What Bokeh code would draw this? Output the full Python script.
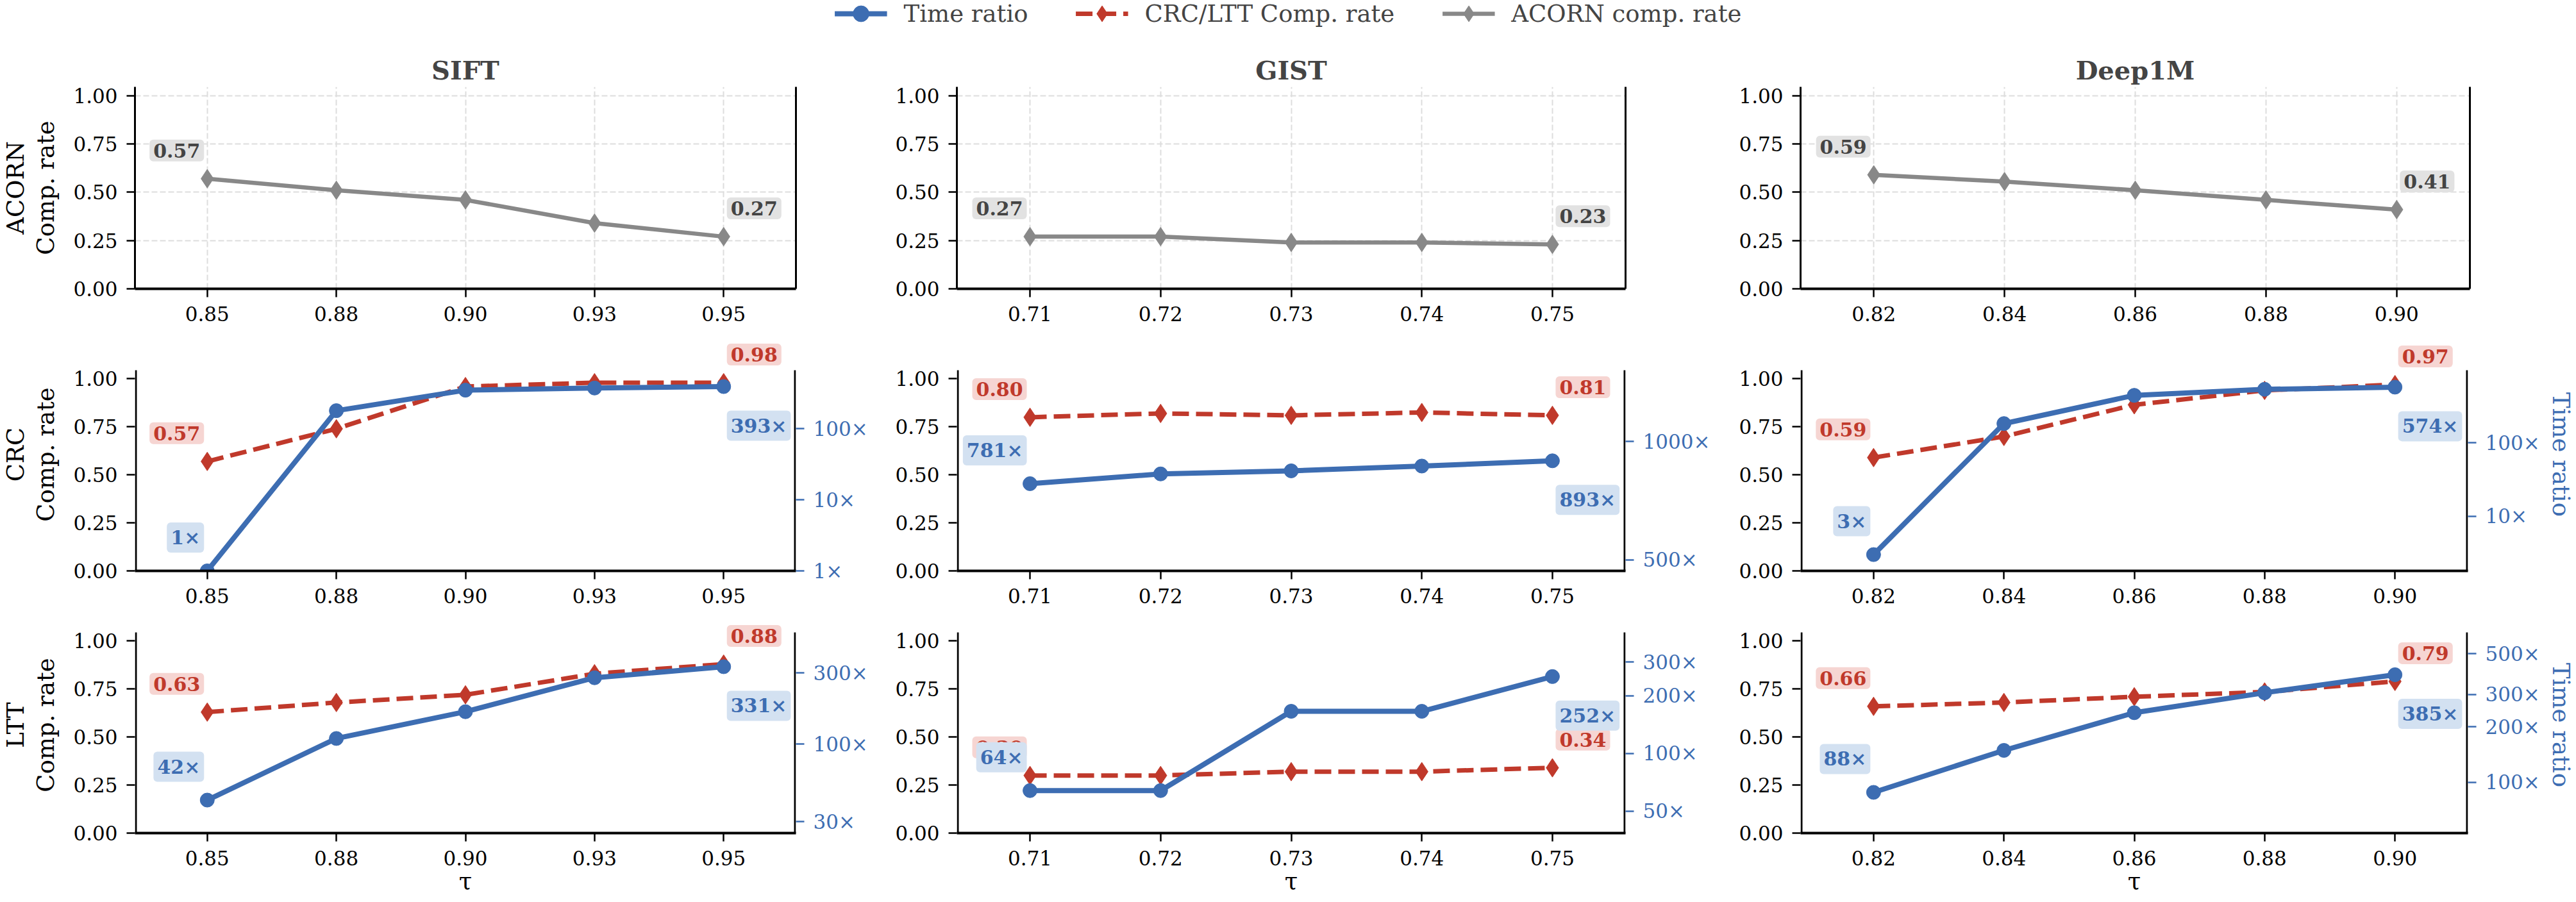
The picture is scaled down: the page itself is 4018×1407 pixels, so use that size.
import math
from bokeh.plotting import figure
from bokeh.layouts import column, row
from bokeh.models import (Range1d, LogScale, LogAxis, LinearAxis, FixedTicker,
                          CustomJSTickFormatter, PrintfTickFormatter, Label,
                          Legend, LegendItem)
from bokeh.embed import file_html
from bokeh.resources import INLINE

# ---------------- data ----------------
datasets = ["SIFT", "GIST", "Deep1M"]
tau_sift = ["0.85", "0.88", "0.90", "0.93", "0.95"]
tau_gist = ["0.71", "0.72", "0.73", "0.74", "0.75"]
tau_deep = ["0.82", "0.84", "0.86", "0.88", "0.90"]

acorn_sift = [0.57, 0.51, 0.46, 0.34, 0.27]
acorn_gist = [0.27, 0.27, 0.24, 0.24, 0.23]
acorn_deep = [0.59, 0.555, 0.51, 0.46, 0.41]

crc_rate_sift = [0.57, 0.74, 0.96, 0.98, 0.98]
crc_time_sift = [1, 180, 350, 375, 393]
crc_rate_gist = [0.80, 0.82, 0.81, 0.825, 0.81]
crc_time_gist = [781, 827, 842, 866, 893]
crc_rate_deep = [0.59, 0.70, 0.865, 0.94, 0.97]
crc_time_deep = [3, 183, 444, 536, 574]

ltt_rate_sift = [0.63, 0.68, 0.72, 0.83, 0.88]
ltt_time_sift = [42, 109, 165, 279, 331]
ltt_rate_gist = [0.30, 0.30, 0.32, 0.32, 0.34]
ltt_time_gist = [64, 64, 166, 166, 252]
ltt_rate_deep = [0.66, 0.68, 0.71, 0.735, 0.79]
ltt_time_deep = [88, 149, 239, 307, 385]

crc_ticks_sift = [1, 10, 100]
crc_ticks_gist = [500, 1000]
crc_ticks_deep = [10, 100]
ltt_ticks_sift = [30, 100, 300]
ltt_ticks_gist = [50, 100, 200, 300]
ltt_ticks_deep = [100, 200, 300, 500]

rate_ticks = [0.0, 0.25, 0.5, 0.75, 1.0]
row_labels = ["ACORN\nComp. rate", "CRC\nComp. rate", "LTT\nComp. rate"]

taus = [tau_sift, tau_gist, tau_deep]
acorn = [acorn_sift, acorn_gist, acorn_deep]
rates = [None, [crc_rate_sift, crc_rate_gist, crc_rate_deep],
         [ltt_rate_sift, ltt_rate_gist, ltt_rate_deep]]
times = [None, [crc_time_sift, crc_time_gist, crc_time_deep],
         [ltt_time_sift, ltt_time_gist, ltt_time_deep]]
tticks = [None, [crc_ticks_sift, crc_ticks_gist, crc_ticks_deep],
          [ltt_ticks_sift, ltt_ticks_gist, ltt_ticks_deep]]

# ---------------- style ----------------
FONT = "DejaVu Serif"
BLUE = "#3d6db2"
RED = "#c0392b"
GRAY = "#888888"
BLUE_BG = "#d3e1f1"
RED_BG = "#f6d5d2"
GRAY_BG = "#e2e2e2"
GRAY_TXT = "#444444"

LEG_H = 42
COL_W = [1367, 1313, 1338]
COL_L = [198, 125, 128]
COL_R = [126, 145, 166]
ROW_H = [478, 440, 447]
ROW_T = [93, 57, 26]
ROW_B = [70, 70, 108]
FRAME_VIS = [315, 313, 313]     # visible plot-area height (px)
EXT = [0, 50, 24]               # extra frame room above the plot area for labels
X_LO, X_HI = -0.56, 4.56
Y_TOP = 1.045
LW_BLUE, LW_RED, LW_GRAY = 8, 7, 6.5
DIAMOND, CIRCLE = 29, 22


def style_axis(ax, color="black", line_w=3):
    ax.axis_line_width = line_w
    ax.axis_line_color = "black"
    ax.major_tick_out = 13
    ax.major_tick_in = 0
    ax.major_tick_line_width = 2.5
    ax.major_tick_line_color = color
    ax.minor_tick_line_color = None
    ax.major_label_text_font = FONT
    ax.major_label_text_font_size = "31px"
    ax.major_label_text_color = color
    ax.major_label_standoff = 14
    ax.axis_label_text_font = FONT
    ax.axis_label_text_font_size = "37px"
    ax.axis_label_text_font_style = "normal"
    ax.axis_label_text_color = color


def add_label(p, x, y, text, color, bg, side, dy, rn="default"):
    lab = Label(x=x, y=y, text=text,
                x_offset=-5 if side == "left" else 5, y_offset=dy,
                text_align="right" if side == "left" else "left",
                text_baseline="middle",
                text_font=FONT, text_font_size="30px", text_font_style="bold",
                text_color=color, background_fill_color=bg,
                background_fill_alpha=1.0, border_radius=6, padding=6,
                y_range_name=rn)
    p.add_layout(lab)


def make_fig(ci, ri):
    tau = taus[ci]
    frac = (FRAME_VIS[ri] + EXT[ri]) / FRAME_VIS[ri]
    p = figure(width=COL_W[ci], height=ROW_H[ri],
               x_range=Range1d(X_LO, X_HI), y_range=Range1d(0, Y_TOP * frac),
               output_backend="svg", toolbar_location=None,
               title=datasets[ci] if ri == 0 else None,
               min_border_left=COL_L[ci], min_border_right=COL_R[ci],
               min_border_top=ROW_T[ri] - EXT[ri], min_border_bottom=ROW_B[ri])
    p.outline_line_color = None
    p.background_fill_color = "white"
    p.border_fill_color = "white"
    if ri == 0:
        p.title.text_font = FONT
        p.title.text_font_size = "40px"
        p.title.text_font_style = "bold"
        p.title.align = "center"
        p.title.standoff = 6

    xs = list(range(len(tau)))
    xax = p.below[0]
    style_axis(xax, line_w=4)
    xax.ticker = FixedTicker(ticks=xs)
    xax.formatter = CustomJSTickFormatter(args=dict(labels=tau), code="""
        const i = Math.round(tick);
        return (i >= 0 && i < labels.length) ? labels[i] : '';
    """)
    if ri == 2:
        xax.axis_label = "τ"
        xax.axis_label_standoff = 0

    yax = p.left[0]
    style_axis(yax)
    yax.ticker = FixedTicker(ticks=rate_ticks)
    yax.formatter = PrintfTickFormatter(format="%.2f")
    if ci == 0:
        yax.axis_label = row_labels[ri]
        yax.axis_label_standoff = 18
        yax.axis_label_text_line_height = 1.1

    if ri == 0:
        for g in (p.xgrid, p.ygrid):
            g.grid_line_color = "#dddddd"
            g.grid_line_width = 2
            g.grid_line_dash = "9 4"
        rax = LinearAxis(ticker=FixedTicker(ticks=[]))
        style_axis(rax)
        rax.major_tick_out = 0
        p.add_layout(rax, "right")
        ys = acorn[ci]
        p.line(xs, ys, line_color=GRAY, line_width=LW_GRAY)
        p.scatter(xs, ys, marker="diamond", size=DIAMOND, fill_color=GRAY, line_color=GRAY)
        add_label(p, xs[0], ys[0], f"{ys[0]:.2f}", GRAY_TXT, GRAY_BG, "left", 44)
        add_label(p, xs[-1], ys[-1], f"{ys[-1]:.2f}", GRAY_TXT, GRAY_BG, "right", 44)
        return p

    p.grid.grid_line_color = None
    rs = rates[ri][ci]
    ts = times[ri][ci]
    lo = max(1.0, min(ts) * 0.6)
    hi = max(ts) * 1.7
    hi_ext = 10 ** (math.log10(lo) + (math.log10(hi) - math.log10(lo)) * frac)
    p.extra_y_ranges = {"time": Range1d(lo, hi_ext)}
    p.extra_y_scales = {"time": LogScale()}
    rax = LogAxis(y_range_name="time", ticker=FixedTicker(ticks=tticks[ri][ci]),
                  formatter=CustomJSTickFormatter(code="return Math.round(tick) + '×';"))
    style_axis(rax, color=BLUE)
    if ci == 2:
        rax.axis_label = "Time ratio"
        rax.axis_label_standoff = 8
    p.add_layout(rax, "right")

    # spines only over the plot area (frame is taller to leave room for labels)
    yax.axis_line_color = None
    rax.axis_line_color = None
    dx = 1.5 * (X_HI - X_LO) / (COL_W[ci] - COL_L[ci] - COL_R[ci])
    p.segment(x0=[X_LO + dx, X_HI - dx], y0=[0, 0], x1=[X_LO + dx, X_HI - dx],
              y1=[Y_TOP, Y_TOP], line_color="black", line_width=3)

    p.line(xs, rs, line_color=RED, line_width=LW_RED, line_dash="26 11")
    p.scatter(xs, rs, marker="diamond", size=DIAMOND, fill_color=RED, line_color=RED)
    p.line(xs, ts, line_color=BLUE, line_width=LW_BLUE, y_range_name="time")
    p.scatter(xs, ts, marker="circle", size=CIRCLE, fill_color=BLUE, line_color=BLUE,
              y_range_name="time")

    add_label(p, xs[0], rs[0], f"{rs[0]:.2f}", RED, RED_BG, "left", 44)
    add_label(p, xs[-1], rs[-1], f"{rs[-1]:.2f}", RED, RED_BG, "right", 44)
    add_label(p, xs[0], ts[0], f"{round(ts[0])}×", BLUE, BLUE_BG, "left", 52, "time")
    add_label(p, xs[-1], ts[-1], f"{round(ts[-1])}×", BLUE, BLUE_BG, "right", -61, "time")
    return p


# ---------------- legend strip ----------------
lg = figure(width=4018, height=LEG_H, x_range=Range1d(0, 1), y_range=Range1d(0, 1),
            output_backend="svg", toolbar_location=None, title=None, min_border=0,
            x_axis_location=None, y_axis_location=None)
lg.outline_line_color = None
lg.background_fill_color = "white"
lg.border_fill_color = "white"
lg.grid.visible = False
OFF = [-10]  # legend proxies kept outside the visible range
b1 = lg.line(x=OFF, y=OFF, line_color=BLUE, line_width=LW_BLUE)
b2 = lg.scatter(x=OFF, y=OFF, marker="circle", fill_color=BLUE, line_color=BLUE)
r1 = lg.line(x=OFF, y=OFF, line_color=RED, line_width=LW_RED, line_dash="26 11")
r2 = lg.scatter(x=OFF, y=OFF, marker="diamond", fill_color=RED, line_color=RED)
g1 = lg.line(x=OFF, y=OFF, line_color=GRAY, line_width=LW_GRAY)
g2 = lg.scatter(x=OFF, y=OFF, marker="diamond", fill_color=GRAY, line_color=GRAY)
leg = Legend(items=[LegendItem(label="Time ratio", renderers=[b1, b2]),
                    LegendItem(label="CRC/LTT Comp. rate", renderers=[r1, r2]),
                    LegendItem(label="ACORN comp. rate", renderers=[g1, g2])],
             orientation="horizontal", location="center",
             glyph_width=82, glyph_height=62, label_standoff=26, spacing=74,
             padding=0, margin=0, border_line_color=None, background_fill_alpha=0,
             label_text_font=FONT, label_text_font_size="37px")
lg.add_layout(leg)

rows = []
for ri in range(3):
    rows.append(row(*[make_fig(ci, ri) for ci in range(3)]))

layout = column(lg, *rows)
open("out.html", "w").write(file_html(layout, INLINE))
